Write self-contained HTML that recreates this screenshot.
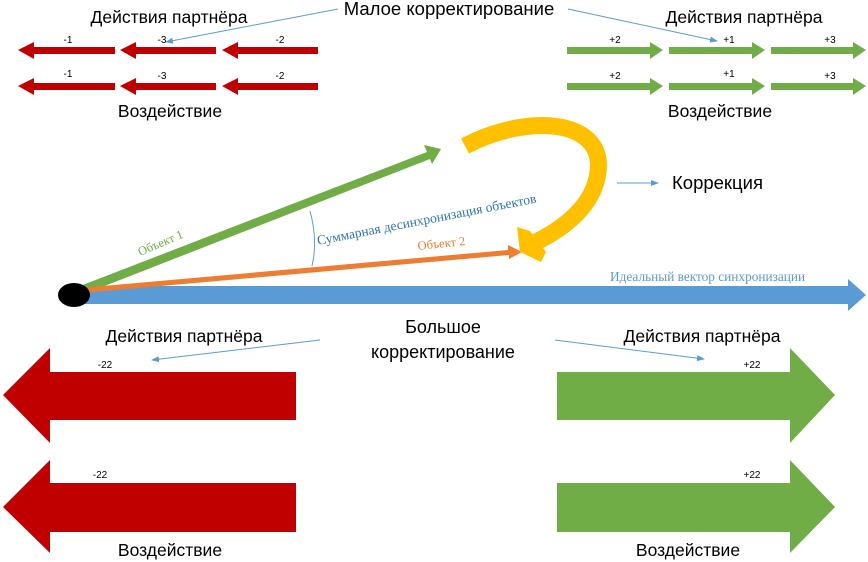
<!DOCTYPE html>
<html><head><meta charset="utf-8"><style>
html,body{margin:0;padding:0;background:#fff;}
svg{display:block;}
.s{font-family:"Liberation Sans","DejaVu Sans",sans-serif;fill:#000;}
.t{font-family:"Liberation Serif",serif;}
</style></head><body>
<svg width="868" height="562" viewBox="0 0 868 562" xmlns="http://www.w3.org/2000/svg">
<defs>
<marker id="ab" markerWidth="8" markerHeight="8" refX="7" refY="4" orient="auto" markerUnits="userSpaceOnUse"><path d="M0,1 L8,4 L0,7 Z" fill="#5b9bd5"/></marker>
</defs>
<!-- top labels -->
<text class="s" x="169" y="23" font-size="17.5" text-anchor="middle">Действия партнёра</text>
<text class="s" x="449" y="15" font-size="18.5" text-anchor="middle">Малое корректирование</text>
<text class="s" x="744" y="23" font-size="17.5" text-anchor="middle">Действия партнёра</text>
<text class="s" x="170" y="117" font-size="17.5" text-anchor="middle">Воздействие</text>
<text class="s" x="720" y="117" font-size="17.5" text-anchor="middle">Воздействие</text>
<line x1="338" y1="9" x2="166" y2="42" stroke="#5b9bd5" stroke-width="1" marker-end="url(#ab)"/>
<line x1="568" y1="9" x2="717" y2="41" stroke="#5b9bd5" stroke-width="1" marker-end="url(#ab)"/>
<!-- small red arrows -->
<g fill="#c00000">
<polygon points="18,50 34,42 34,47 115,47 115,54 34,54 34,59"/>
<polygon points="120,50 136,42 136,47 216,47 216,54 136,54 136,59"/>
<polygon points="222,50 238,42 238,47 318,47 318,54 238,54 238,59"/>
<polygon points="18,86 34,78 34,83 115,83 115,90 34,90 34,95"/>
<polygon points="120,86 136,78 136,83 216,83 216,90 136,90 136,95"/>
<polygon points="222,86 238,78 238,83 318,83 318,90 238,90 238,95"/>
</g>
<g fill="#70ad47">
<polygon points="567,47 650,47 650,42 663,50 650,59 650,54 567,54"/>
<polygon points="669,47 752,47 752,42 765,50 752,59 752,54 669,54"/>
<polygon points="771,47 853,47 853,42 866,50 853,59 853,54 771,54"/>
<polygon points="567,83 650,83 650,78 663,86 650,95 650,90 567,90"/>
<polygon points="669,83 752,83 752,78 765,86 752,95 752,90 669,90"/>
<polygon points="771,83 853,83 853,78 866,86 853,95 853,90 771,90"/>
</g>
<g class="s" font-size="10" text-anchor="middle">
<text x="68" y="43">-1</text><text x="162" y="43">-3</text><text x="280" y="43">-2</text>
<text x="68" y="77">-1</text><text x="162" y="79">-3</text><text x="280" y="79">-2</text>
<text x="615" y="43">+2</text><text x="729" y="43">+1</text><text x="830" y="43">+3</text>
<text x="615" y="79">+2</text><text x="729" y="77">+1</text><text x="830" y="79">+3</text>
</g>
<!-- center -->
<polygon points="80,286 848,286 848,279 866,295 848,311 848,304 80,304" fill="#5b9bd5"/>
<polygon points="80,286 427,152 424,145 441,149 432,164 430,159 84,294" fill="#70ad47"/>
<polygon points="80,288 508,250 508,245 522,252 509,259 509,255 82,293" fill="#ed7d31"/>
<ellipse cx="74" cy="295" rx="16" ry="12" fill="#000"/>
<path d="M310,211 Q318,240 312,266" fill="none" stroke="#5b9bd5" stroke-width="1"/>
<path d="M465,146 C530,112 605,120 598,172 C594,205 565,228 534,243" fill="none" stroke="#ffc000" stroke-width="17"/>
<polygon points="517,227 530,231 546,252 541,262 520,252" fill="#ffc000"/>
<line x1="617" y1="183" x2="658" y2="183" stroke="#5b9bd5" stroke-width="1" marker-end="url(#ab)"/>
<text class="s" x="672" y="189" font-size="18.5">Коррекция</text>
<text class="t" x="0" y="0" font-size="12.5" fill="#70ad47" transform="translate(140,256) rotate(-23)">Объект 1</text>
<text class="t" x="0" y="0" font-size="12.5" fill="#ed7d31" transform="translate(418,250) rotate(-6)">Объект 2</text>
<text class="t" x="0" y="0" font-size="13.5" fill="#2e75b6" transform="translate(318,245) rotate(-11)">Суммарная десинхронизация объектов</text>
<text class="t" x="610" y="281" font-size="13.3" fill="#5b9bd5">Идеальный вектор синхронизации</text>
<!-- bottom -->
<text class="s" x="184" y="342" font-size="17.5" text-anchor="middle">Действия партнёра</text>
<text class="s" x="702" y="342" font-size="17.5" text-anchor="middle">Действия партнёра</text>
<text class="s" x="443" y="333" font-size="18" text-anchor="middle">Большое</text>
<text class="s" x="443" y="358" font-size="18" text-anchor="middle">корректирование</text>
<line x1="320" y1="340" x2="152" y2="360" stroke="#5b9bd5" stroke-width="1" marker-end="url(#ab)"/>
<line x1="555" y1="340" x2="704" y2="359" stroke="#5b9bd5" stroke-width="1" marker-end="url(#ab)"/>
<g fill="#c00000">
<polygon points="3,395 50,348 50,372 296,372 296,420 50,420 50,443"/>
<polygon points="3,507 50,460 50,483 296,483 296,532 50,532 50,553"/>
</g>
<g fill="#70ad47">
<polygon points="557,372 790,372 790,348 835,395 790,443 790,420 557,420"/>
<polygon points="557,483 790,483 790,460 835,507 790,553 790,532 557,532"/>
</g>
<g class="s" font-size="10" text-anchor="middle">
<text x="105" y="368">-22</text><text x="100" y="478">-22</text>
<text x="752" y="368">+22</text><text x="752" y="478">+22</text>
</g>
<text class="s" x="170" y="556" font-size="17.5" text-anchor="middle">Воздействие</text>
<text class="s" x="688" y="556" font-size="17.5" text-anchor="middle">Воздействие</text>
</svg>
</body></html>
